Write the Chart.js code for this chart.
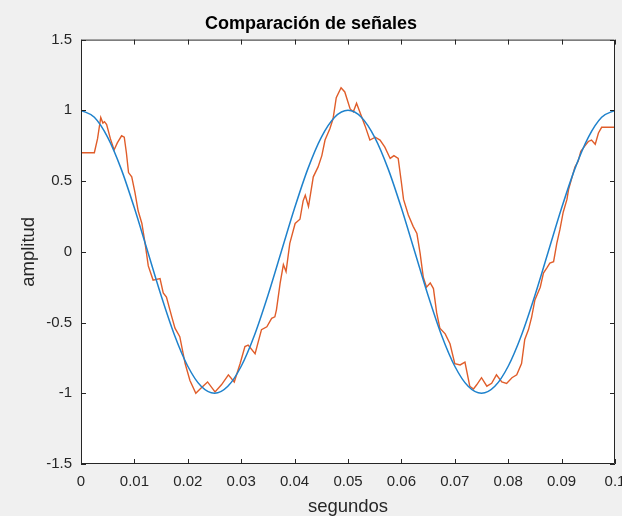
<!DOCTYPE html>
<html>
<head>
<meta charset="utf-8">
<script src="https://cdn.jsdelivr.net/npm/chart.js@4"></script>
<style>
  html, body { margin: 0; padding: 0; background: #f0f0f0; overflow: hidden; }
  #wrap { width: 622px; height: 516px; }
</style>
</head>
<body>
<div id="wrap"><canvas id="chart"></canvas></div>
<script>
// reference cosine, read at 0.0025 s steps
const blueT = [0, 0.0025, 0.005, 0.0075, 0.01, 0.0125, 0.015, 0.0175, 0.02, 0.0225,
  0.025, 0.0275, 0.03, 0.0325, 0.035, 0.0375, 0.04, 0.0425, 0.045, 0.0475,
  0.05, 0.0525, 0.055, 0.0575, 0.06, 0.0625, 0.065, 0.0675, 0.07, 0.0725,
  0.075, 0.0775, 0.08, 0.0825, 0.085, 0.0875, 0.09, 0.0925, 0.095, 0.0975, 0.1];
const blueY = [1, 0.951, 0.809, 0.588, 0.309, 0, -0.309, -0.588, -0.809, -0.951,
  -1, -0.951, -0.809, -0.588, -0.309, 0, 0.309, 0.588, 0.809, 0.951,
  1, 0.951, 0.809, 0.588, 0.309, 0, -0.309, -0.588, -0.809, -0.951,
  -1, -0.951, -0.809, -0.588, -0.309, 0, 0.309, 0.588, 0.809, 0.951, 1];

// noisy signal
const redT = [0, 0.0025, 0.0031, 0.0037, 0.0041, 0.0044, 0.0048, 0.0055, 0.0062, 0.0068,
  0.0076, 0.0081, 0.0085, 0.0089, 0.0095, 0.0101, 0.0107, 0.0114, 0.012, 0.0126,
  0.0135, 0.0148, 0.0154, 0.016, 0.017, 0.0176, 0.0185, 0.0195, 0.0204, 0.0215,
  0.0223, 0.0237, 0.0251, 0.0263, 0.0276, 0.0287, 0.0298, 0.0307, 0.0313, 0.0326,
  0.0338, 0.0348, 0.0357, 0.0363, 0.0366, 0.0373, 0.0379, 0.0384, 0.0391, 0.0401,
  0.041, 0.0416, 0.042, 0.0426, 0.0435, 0.0444, 0.0451, 0.0457, 0.0466, 0.0472,
  0.0478, 0.0487, 0.0494, 0.0504, 0.051, 0.0516, 0.0522, 0.0532, 0.0541, 0.0551,
  0.056, 0.0569, 0.0579, 0.0586, 0.0594, 0.06, 0.0604, 0.0613, 0.0622, 0.0629,
  0.0635, 0.0641, 0.0647, 0.0654, 0.066, 0.0666, 0.0672, 0.0682, 0.0691, 0.07,
  0.071, 0.0719, 0.0728, 0.0735, 0.0741, 0.075, 0.076, 0.0769, 0.0778, 0.0788,
  0.0797, 0.0807, 0.0816, 0.0825, 0.0831, 0.0838, 0.0844, 0.085, 0.086, 0.0866,
  0.0873, 0.0878, 0.0885, 0.0891, 0.0897, 0.0903, 0.091, 0.0913, 0.0925, 0.0931,
  0.0936, 0.0944, 0.095, 0.0956, 0.0963, 0.0969, 0.0975, 0.1];
const redY = [0.70, 0.70, 0.80, 0.95, 0.91, 0.92, 0.90, 0.80, 0.72, 0.77,
  0.82, 0.81, 0.70, 0.56, 0.53, 0.42, 0.29, 0.20, 0.06, -0.10,
  -0.20, -0.19, -0.29, -0.32, -0.46, -0.54, -0.60, -0.79, -0.91, -1.00,
  -0.97, -0.92, -0.99, -0.94, -0.87, -0.92, -0.79, -0.67, -0.66, -0.72,
  -0.55, -0.53, -0.47, -0.46, -0.41, -0.22, -0.09, -0.14, 0.06, 0.20,
  0.23, 0.36, 0.40, 0.32, 0.53, 0.60, 0.68, 0.79, 0.87, 0.94,
  1.09, 1.16, 1.13, 1.01, 0.99, 1.05, 0.99, 0.89, 0.79, 0.81,
  0.79, 0.74, 0.66, 0.68, 0.66, 0.49, 0.37, 0.26, 0.18, 0.13,
  -0.01, -0.18, -0.25, -0.22, -0.26, -0.43, -0.54, -0.58, -0.65, -0.79,
  -0.80, -0.78, -0.95, -0.97, -0.94, -0.89, -0.95, -0.93, -0.87, -0.92,
  -0.93, -0.89, -0.87, -0.79, -0.62, -0.55, -0.46, -0.34, -0.25, -0.15,
  -0.11, -0.08, -0.07, 0.06, 0.16, 0.28, 0.37, 0.44, 0.60, 0.64,
  0.71, 0.75, 0.78, 0.79, 0.76, 0.84, 0.88, 0.88];

const xTickLabels = ['0', '0.01', '0.02', '0.03', '0.04', '0.05', '0.06', '0.07', '0.08', '0.09', '0.1'];
const yTickLabels = ['-1.5', '-1', '-0.5', '0', '0.5', '1', '1.5'];

const axisColor = '#262626';
const tickFont = { family: 'Liberation Sans, Arial, sans-serif', size: 15 };

// white plot area + matlab style box with inward ticks
const boxPlugin = {
  id: 'box',
  beforeDraw(chart) {
    const { ctx, chartArea: a } = chart;
    ctx.save();
    ctx.fillStyle = '#ffffff';
    ctx.fillRect(a.left, a.top, a.right - a.left, a.bottom - a.top);
    ctx.restore();
  },
  afterDraw(chart) {
    const { ctx, chartArea: a, scales } = chart;
    const len = 5;
    ctx.save();
    ctx.strokeStyle = axisColor;
    ctx.lineWidth = 1;
    ctx.beginPath();
    ctx.rect(a.left + 0.5, a.top + 0.5, a.right - a.left - 1, a.bottom - a.top - 1);
    scales.x.ticks.forEach(t => {
      const px = Math.round(scales.x.getPixelForValue(t.value)) + 0.5;
      ctx.moveTo(px, a.bottom); ctx.lineTo(px, a.bottom - len);
      ctx.moveTo(px, a.top); ctx.lineTo(px, a.top + len);
    });
    scales.y.ticks.forEach(t => {
      const py = Math.round(scales.y.getPixelForValue(t.value)) + 0.5;
      ctx.moveTo(a.left, py); ctx.lineTo(a.left + len, py);
      ctx.moveTo(a.right, py); ctx.lineTo(a.right - len, py);
    });
    ctx.stroke();
    ctx.restore();
  }
};

new Chart(document.getElementById('chart'), {
  type: 'line',
  data: {
    datasets: [
      {
        label: 'coseno',
        data: blueT.map((t, i) => ({ x: t, y: blueY[i] })),
        borderColor: '#1f82cc',
        borderWidth: 1.5,
        pointRadius: 0,
        cubicInterpolationMode: 'monotone'
      },
      {
        label: 'señal',
        data: redT.map((t, i) => ({ x: t, y: redY[i] })),
        borderColor: '#e05d2a',
        borderWidth: 1.4,
        pointRadius: 0,
        tension: 0
      }
    ]
  },
  options: {
    responsive: true,
    maintainAspectRatio: false,
    animation: false,
    layout: { padding: 0 },
    plugins: {
      legend: { display: false },
      tooltip: { enabled: false },
      title: {
        display: true,
        text: 'Comparación de señales',
        color: '#000000',
        font: { family: 'Liberation Sans, Arial, sans-serif', size: 18, weight: 'bold' },
        padding: { top: 13, bottom: 5 }
      }
    },
    scales: {
      x: {
        type: 'linear',
        min: 0,
        max: 0.1,
        grid: { display: false, drawTicks: false },
        border: { display: false },
        ticks: {
          stepSize: 0.01,
          padding: 9,
          color: axisColor,
          font: tickFont,
          maxRotation: 0,
          autoSkip: false,
          callback: (v, i) => xTickLabels[i]
        },
        title: {
          display: true,
          text: 'segundos',
          color: axisColor,
          font: { family: 'Liberation Sans, Arial, sans-serif', size: 18.5, lineHeight: 1 },
          padding: { top: 0, bottom: 0 }
        },
        afterFit(scale) {
          scale.height = 52;
          scale.paddingLeft = 0;
          scale.paddingRight = 7;
        }
      },
      y: {
        min: -1.5,
        max: 1.5,
        grid: { display: false, drawTicks: false },
        border: { display: false },
        ticks: {
          stepSize: 0.5,
          padding: 9,
          color: axisColor,
          font: tickFont,
          callback: (v, i) => yTickLabels[i]
        },
        title: {
          display: true,
          text: 'amplitud',
          color: axisColor,
          font: { family: 'Liberation Sans, Arial, sans-serif', size: 18.5 },
          padding: { top: 18, bottom: 0 }
        },
        afterFit(scale) {
          scale.width = 81;
        }
      }
    }
  },
  plugins: [boxPlugin]
});
</script>
</body>
</html>
